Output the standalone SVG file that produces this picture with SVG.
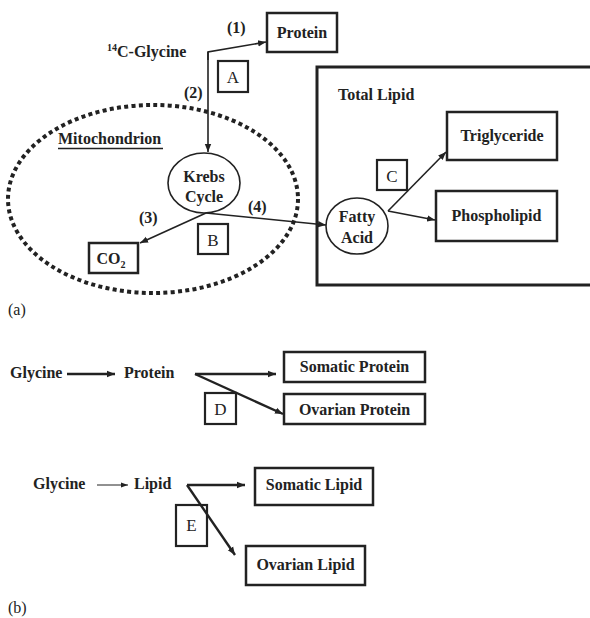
<svg xmlns="http://www.w3.org/2000/svg" width="590" height="618" viewBox="0 0 590 618">
<defs>
<marker id="ah" viewBox="0 0 10 10" refX="10" refY="5" markerWidth="8" markerHeight="8" markerUnits="userSpaceOnUse" orient="auto">
<path d="M0,1 L10,5 L0,9 Z" fill="#222"/>
</marker>
<marker id="ahs" viewBox="0 0 10 10" refX="10" refY="5" markerWidth="7" markerHeight="7" markerUnits="userSpaceOnUse" orient="auto">
<path d="M0,1.5 L10,5 L0,8.5 Z" fill="#222"/>
</marker>
</defs>
<style>
text{font-family:"Liberation Serif","Times New Roman",serif;fill:#222}
.b{font-weight:bold;font-size:16px}
.r{font-size:17px}
.lab{font-size:16px}
.box{fill:#fff;stroke:#222;stroke-width:2.5}
.lbox{fill:none;stroke:#222;stroke-width:2.2}
.circ{fill:#fff;stroke:#222;stroke-width:1.6}
.c{fill:none;stroke:#222;stroke-width:1.6}
.ct{fill:none;stroke:#222;stroke-width:2.4}
.cthin{fill:none;stroke:#222;stroke-width:1}
</style>
<rect width="590" height="618" fill="#fff"/>

<g id="mitochondrion">
<ellipse cx="153" cy="199" rx="145" ry="94" fill="none" stroke="#222" stroke-width="4" stroke-dasharray="4 3.3"/>
<text class="b" x="58" y="144">Mitochondrion</text>
<line x1="58" y1="148.5" x2="163" y2="148.5" stroke="#222" stroke-width="1.6"/>
</g>

<g id="total-lipid">
<rect x="317" y="67" width="290" height="218" fill="none" stroke="#222" stroke-width="3"/>
<text class="b" x="338" y="100">Total Lipid</text>
</g>

<g id="connectors">
<polyline class="c" points="208,60 208,52 266,42" marker-end="url(#ah)"/>
<line class="c" x1="208" y1="52" x2="208" y2="152" marker-end="url(#ah)"/>
<line class="c" x1="206" y1="213" x2="140" y2="243" marker-end="url(#ah)"/>
<line class="c" x1="206" y1="213" x2="326" y2="225" marker-end="url(#ah)"/>
<line class="c" x1="388" y1="211" x2="446" y2="152" marker-end="url(#ah)"/>
<line class="c" x1="388" y1="211" x2="435" y2="220" marker-end="url(#ah)"/>
<line class="ct" x1="67" y1="374" x2="115" y2="374" marker-end="url(#ah)"/>
<line class="ct" x1="195" y1="374" x2="276" y2="374" marker-end="url(#ah)"/>
<line class="ct" x1="195" y1="374" x2="283" y2="414" marker-end="url(#ah)"/>
<line class="cthin" x1="97" y1="485" x2="128" y2="485" marker-end="url(#ahs)"/>
<line class="ct" x1="187" y1="485" x2="245" y2="485" marker-end="url(#ah)"/>
<line class="ct" x1="187" y1="485" x2="235" y2="555" marker-end="url(#ah)"/>
</g>

<g id="glycine14c">
<text class="b" x="107" y="57"><tspan font-size="10" dy="-6">14</tspan><tspan dy="6">C-Glycine</tspan></text>
</g>
<g id="label-1"><text class="b" x="227" y="33">(1)</text></g>
<g id="label-2"><text class="b" x="184" y="98">(2)</text></g>
<g id="label-3"><text class="b" x="139" y="223">(3)</text></g>
<g id="label-4"><text class="b" x="248" y="212">(4)</text></g>

<g id="protein">
<rect class="box" x="267" y="13" width="70" height="39"/>
<text class="b" x="302" y="38" text-anchor="middle">Protein</text>
</g>
<g id="box-a">
<rect class="lbox" x="218" y="61" width="30" height="31"/>
<text class="r" x="233" y="83" text-anchor="middle">A</text>
</g>
<g id="krebs">
<ellipse class="circ" cx="204" cy="183" rx="36" ry="30"/>
<text class="b" x="204" y="182" text-anchor="middle">Krebs</text>
<text class="b" x="204" y="202" text-anchor="middle">Cycle</text>
</g>
<g id="co2">
<rect class="box" x="89" y="243" width="49" height="30"/>
<text class="b" x="111" y="264" text-anchor="middle">CO<tspan font-size="10" dy="4">2</tspan></text>
</g>
<g id="box-b">
<rect class="lbox" x="198" y="224" width="30" height="30"/>
<text class="r" x="213" y="246" text-anchor="middle">B</text>
</g>
<g id="fatty-acid">
<ellipse class="circ" cx="357" cy="226" rx="31" ry="28"/>
<text class="b" x="357" y="222" text-anchor="middle">Fatty</text>
<text class="b" x="357" y="243" text-anchor="middle">Acid</text>
</g>
<g id="box-c">
<rect class="lbox" x="377" y="160" width="30" height="30"/>
<text class="r" x="392" y="182" text-anchor="middle">C</text>
</g>
<g id="triglyceride">
<rect class="box" x="447" y="112" width="110" height="48"/>
<text class="b" x="502" y="141" text-anchor="middle">Triglyceride</text>
</g>
<g id="phospholipid">
<rect class="box" x="436" y="191" width="121" height="50"/>
<text class="b" x="496.5" y="221" text-anchor="middle">Phospholipid</text>
</g>
<g id="label-a"><text class="lab" x="8" y="315">(a)</text></g>

<g id="glycine1"><text class="b" x="10" y="378">Glycine</text></g>
<g id="protein-b"><text class="b" x="124" y="378">Protein</text></g>
<g id="somatic-protein">
<rect class="box" x="284" y="352" width="141" height="30"/>
<text class="b" x="354.5" y="372" text-anchor="middle">Somatic Protein</text>
</g>
<g id="ovarian-protein">
<rect class="box" x="284" y="394" width="141" height="30"/>
<text class="b" x="354.5" y="415" text-anchor="middle">Ovarian Protein</text>
</g>
<g id="box-d">
<rect class="lbox" x="205" y="393" width="31" height="31"/>
<text class="r" x="220.5" y="415" text-anchor="middle">D</text>
</g>

<g id="glycine2"><text class="b" x="33" y="489">Glycine</text></g>
<g id="lipid"><text class="b" x="134" y="489">Lipid</text></g>
<g id="somatic-lipid">
<rect class="box" x="255" y="468" width="118" height="37"/>
<text class="b" x="314" y="490" text-anchor="middle">Somatic Lipid</text>
</g>
<g id="box-e">
<rect class="lbox" x="176" y="505" width="31" height="41"/>
<text class="r" x="191.5" y="531" text-anchor="middle">E</text>
</g>
<g id="ovarian-lipid">
<rect class="box" x="246" y="546" width="119" height="39"/>
<text class="b" x="305.5" y="570" text-anchor="middle">Ovarian Lipid</text>
</g>
<g id="label-b"><text class="lab" x="8" y="613">(b)</text></g>
</svg>
